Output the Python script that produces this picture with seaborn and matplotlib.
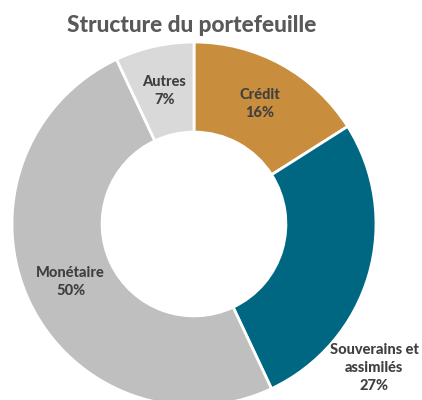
import matplotlib
matplotlib.use("Agg")
import matplotlib.pyplot as plt
import seaborn as sns

# ============================================================
# DATA
# ============================================================

categories = ["Crédit", "Souverains et\nassimilés", "Monétaire", "Autres"]
shares = [16, 27, 50, 7]
colors = ["#C98E3D", "#006782", "#BFBFBF", "#D9D9D9"]

# ============================================================
# STYLE
# ============================================================

sns.set_style("white")
plt.rcParams["font.family"] = ["Lato", "DejaVu Sans"]

fig = plt.figure(figsize=(4.22, 4.0), dpi=100)
ax = fig.add_axes([0.0284, -0.015, 0.8626, 0.91])

wedges, texts = ax.pie(
    shares,
    colors=colors,
    startangle=90,
    counterclock=False,
    radius=1.0,
    labels=[f"{c}\n{s}%" for c, s in zip(categories, shares)],
    labeldistance=0.75,
    wedgeprops=dict(width=0.495, edgecolor="white", linewidth=2),
    textprops=dict(color="#404040", fontsize=10.5, fontweight="black",
                   ha="center", va="center", linespacing=1.35),
)

for t in texts:
    t.set_ha("center")
    t.set_va("center")

# Souverains label sits outside the ring, lower right
texts[1].set_position((0.99, -0.79))

ax.set_xlim(-1, 1)
ax.set_ylim(-1, 1)
ax.set_aspect("equal")
ax.axis("off")

fig.text(0.455, 0.937, "Structure du portefeuille", ha="center", va="center",
         fontsize=16.3, fontweight="black", color="#595959")

fig.savefig("out.png", dpi=100)
